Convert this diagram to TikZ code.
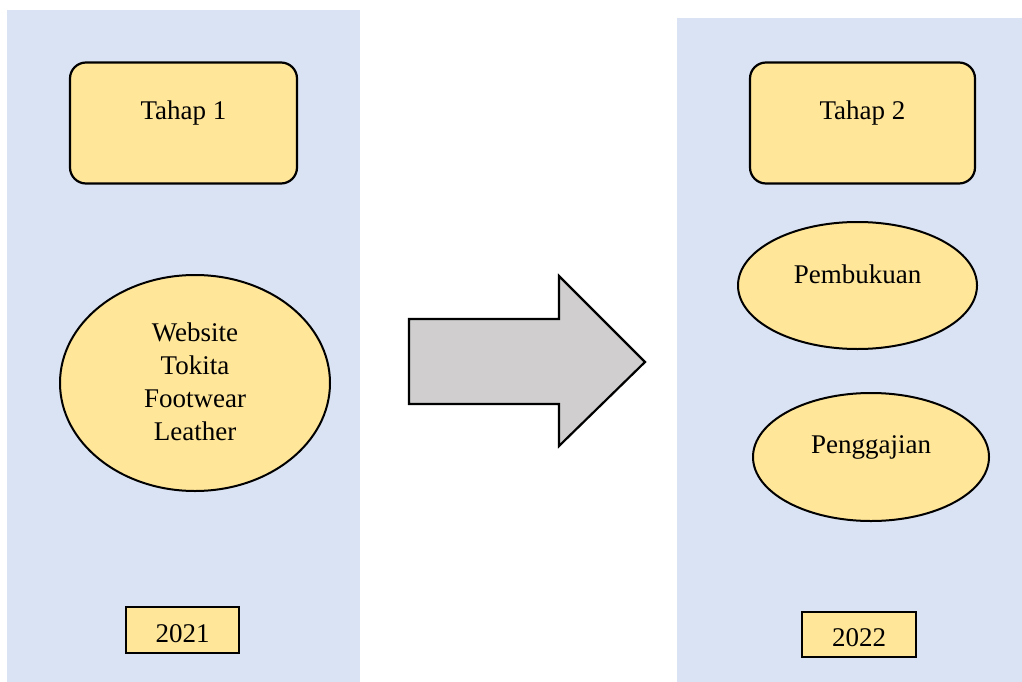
\documentclass[tikz,border=0pt]{standalone}
\usepackage{fontspec}
\setmainfont{Liberation Serif}
\usetikzlibrary{shapes.geometric}
\definecolor{panel}{HTML}{DAE3F3}
\definecolor{boxfill}{HTML}{FFE699}
\definecolor{arrowfill}{HTML}{D0CECE}
\tikzset{
  panelbg/.style={fill=panel, draw=none},
  stagebox/.style={draw=black, line width=2.2pt, fill=boxfill, rounded corners=16pt, minimum width=227pt, minimum height=121pt, inner sep=0pt},
  yearbox/.style={draw=black, line width=2.4pt, fill=boxfill, inner sep=0pt},
  bubble/.style={draw=black, line width=2pt, fill=boxfill, ellipse, inner sep=0pt},
  txt/.style={font=\fontsize{27}{33}\selectfont, align=center, inner sep=0pt},
}
\begin{document}
\begin{tikzpicture}[x=1pt,y=-1pt]
\useasboundingbox (0,0) rectangle (1022,682);
% panels
\path[panelbg] (7,10) rectangle (360,682);
\path[panelbg] (677,18) rectangle (1022,682);
% left column
\node[stagebox] (t1) at (183.5,123) {};
\node[txt] (t1t) at (183.5,113) {Tahap 1};
\node[bubble, minimum width=270pt, minimum height=216pt] (web) at (195,383) {};
\node[txt] (webt) at (195,382) {Website\\Tokita\\Footwear\\Leather};
\node[yearbox, minimum width=113pt, minimum height=46pt] (y1) at (182.5,630) {};
\node[txt] (y1t) at (182.5,634) {2021};
% arrow
\draw[fill=arrowfill, line width=2.2pt, line join=miter] (409,319) -- (559,319) -- (559,276) -- (645,362) -- (559,446) -- (559,404) -- (409,404) -- cycle;
% right column
\node[stagebox, minimum width=225pt] (t2) at (862.5,123) {};
\node[txt] (t2t) at (862.5,113) {Tahap 2};
\node[bubble, minimum width=239pt, minimum height=127pt] (pb) at (857.5,285.5) {};
\node[txt] (pbt) at (857.5,274) {Pembukuan};
\node[bubble, minimum width=236pt, minimum height=128pt] (pg) at (871,457) {};
\node[txt] (pgt) at (871,447) {Penggajian};
\node[yearbox, minimum width=114pt, minimum height=45pt] (y2) at (859,634.5) {};
\node[txt] (y2t) at (859,638) {2022};
\end{tikzpicture}
\end{document}
